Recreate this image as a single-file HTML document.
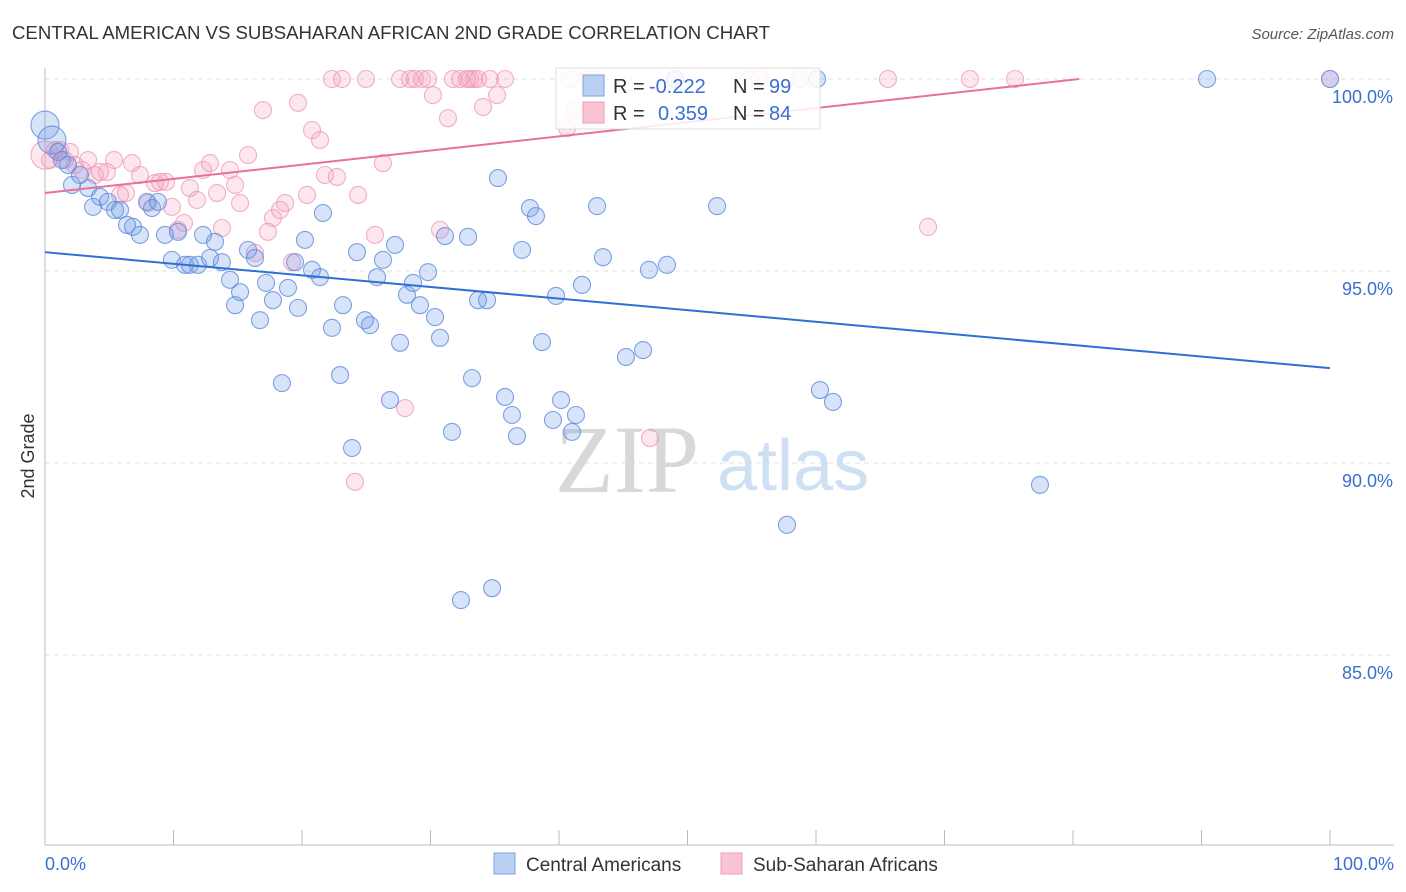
<!DOCTYPE html>
<html><head><meta charset="utf-8"><style>
body{margin:0;background:#fff;font-family:"Liberation Sans",sans-serif;}
#wrap{position:relative;width:1406px;height:892px;overflow:hidden;}
</style></head><body>
<div id="wrap">
<svg id="svg" width="1406" height="892"></svg>
</div>
<script>
const blueX=[0,0.54,1.01,1.32,1.79,2.10,2.72,3.35,3.74,4.28,4.90,5.45,5.84,6.38,6.85,7.39,7.94,8.33,8.79,9.34,9.88,10.35,10.89,11.28,11.91,12.30,12.84,13.23,13.77,14.40,14.79,15.18,15.80,16.34,16.73,17.20,17.74,18.44,18.91,19.46,19.69,20.23,20.78,21.40,21.63,22.33,22.96,23.19,23.89,24.28,24.90,25.29,25.84,26.30,26.85,27.24,27.63,28.17,28.64,29.18,29.81,30.35,30.74,31.13,31.67,32.37,32.92,33.23,33.70,34.40,34.79,35.25,35.80,36.34,36.73,37.12,37.74,38.21,38.68,39.53,39.77,40.16,41.01,41.32,41.79,42.96,43.42,45.21,46.54,47.00,48.40,52.30,57.74,60.31,61.32,77.43,90.43,100,60.08,49.03];
const blueY=[98.80,98.41,98.10,97.89,97.76,97.24,97.50,97.16,96.67,96.93,96.80,96.59,96.59,96.20,96.15,95.94,96.80,96.64,96.80,95.94,95.29,96.02,95.16,95.16,95.16,95.94,95.34,95.76,95.23,94.77,94.11,94.45,95.55,95.34,93.72,94.69,94.24,92.08,94.56,95.23,94.04,95.81,95.03,94.84,96.51,93.52,92.29,94.11,90.39,95.49,93.72,93.59,94.84,95.29,91.64,95.68,93.13,94.38,94.69,94.11,94.97,93.80,93.26,95.91,90.81,86.43,95.89,92.21,94.24,94.24,86.74,97.42,91.72,91.25,90.70,95.55,96.64,96.43,93.15,91.12,94.35,91.64,90.81,91.25,94.64,96.69,95.36,92.76,92.94,95.03,95.16,96.69,88.39,91.90,91.59,89.43,100,100,100,100];
const pinkX=[0,0.39,0.78,1.17,1.56,1.95,2.33,2.88,3.35,3.89,4.28,4.82,5.37,5.84,6.30,6.77,7.39,8.02,8.56,8.95,9.42,9.88,10.35,10.82,11.28,11.83,12.30,12.84,13.39,13.77,14.40,14.79,15.18,15.80,16.34,16.96,17.35,17.74,18.29,18.68,19.22,19.69,20.39,20.78,21.40,21.79,22.33,22.72,23.11,24.12,24.36,24.98,25.68,26.30,27.63,28.02,28.40,28.79,29.34,29.81,30.19,30.74,31.36,31.75,32.30,32.84,33.07,33.39,33.70,34.09,34.63,35.18,35.80,40.62,40.86,41.25,42.18,43.04,47.08,49.03,54.86,55.64,58.75,65.60,68.72,71.98,75.49,100];
const pinkY=[98.02,97.89,98.15,98.15,97.89,98.10,97.76,97.63,97.89,97.50,97.58,97.58,97.89,96.98,97.03,97.81,97.50,96.77,97.29,97.32,97.32,96.67,96.07,96.25,97.16,96.85,97.63,97.81,97.03,96.12,97.63,97.24,96.77,98.02,95.47,99.19,96.02,96.38,96.59,96.77,95.23,99.38,96.98,98.67,98.41,97.50,100,97.45,100,89.51,96.98,100,95.94,97.81,100,91.43,100,100,100,100,99.58,96.07,98.98,100,100,100,100,100,100,99.27,100,99.58,100,98.72,100,99.19,100,100,90.65,100,100,100,100,100,96.15,100,100,100];
const blueTrend=[95.49,92.47];
const pinkTrend=[97.03,100.72];
const yTicks=[100,95,90,85];
const yTickLabels=["100.0%","95.0%","90.0%","85.0%"];

const NS="http://www.w3.org/2000/svg";
const svg=document.getElementById('svg');
const X0=45,X1=1330,Y100=79,PXY=38.4;
const xs=v=>X0+(X1-X0)*v/100;
const ys=v=>Y100+(100-v)*PXY;
function mk(t,a,p){const e=document.createElementNS(NS,t);for(const k in a)e.setAttribute(k,a[k]);(p||svg).appendChild(e);return e;}

let t=mk('text',{x:12,y:39,'font-size':18.6,fill:'#333'});t.textContent='CENTRAL AMERICAN VS SUBSAHARAN AFRICAN 2ND GRADE CORRELATION CHART';

t=mk('text',{x:1394,y:39,'font-size':15,fill:'#555','font-style':'italic','text-anchor':'end'});t.textContent='Source: ZipAtlas.com';


yTicks.forEach((v,i)=>{
 const l=mk('line',{x1:X0,x2:1394,y1:ys(v),y2:ys(v),stroke:'#e2e2e2','stroke-dasharray':'5,4'});
 
 const tx=mk('text',{x:1393,y:ys(v)+24,'font-size':18,fill:'#3a6fd0','text-anchor':'end'});tx.textContent=yTickLabels[i];
 
});
let ax=mk('line',{x1:X0,x2:X0,y1:68,y2:845,stroke:'#bbb'});
ax=mk('line',{x1:X0,x2:1394,y1:845,y2:845,stroke:'#bbb'});
for(let i=0;i<=10;i++){const tk=mk('line',{x1:xs(i*10),x2:xs(i*10),y1:830,y2:845,stroke:'#bbb'});}
t=mk('text',{x:45,y:870,'font-size':18,fill:'#3a6fd0'});t.textContent='0.0%';
t=mk('text',{x:1394,y:870,'font-size':18,fill:'#3a6fd0','text-anchor':'end'});t.textContent='100.0%';
t=mk('text',{x:34,y:456,'font-size':18,fill:'#333','text-anchor':'middle',transform:'rotate(-90 34 456)'});t.textContent='2nd Grade';

t=mk('text',{x:555,y:492,'font-size':96,fill:'#d8d8d8','font-family':'Liberation Serif, serif'});t.textContent='ZIP';
t=mk('text',{x:717,y:490,'font-size':72,fill:'#cfe0f5'});t.textContent='atlas';

function pts(X,Y,fill,stroke,name){
 X.forEach((x,i)=>{
  const big=(i===0||(i===1&&name==='blue-point'));
  const c=mk('circle',{cx:xs(x),cy:ys(Y[i]),r:big?14:8.5,fill:fill,stroke:stroke,'stroke-width':1.1});
  
 });
}
pts(pinkX,pinkY,'rgba(244,160,190,0.25)','rgba(238,150,180,0.75)','pink-point');
pts(blueX,blueY,'rgba(110,155,230,0.28)','rgba(95,140,220,0.8)','blue-point');

let l=mk('line',{x1:xs(0),y1:ys(blueTrend[0]),x2:xs(100),y2:ys(blueTrend[1]),stroke:'#2f6fd6','stroke-width':2});

const pEnd=(100-pinkTrend[0])/(pinkTrend[1]-pinkTrend[0])*100;
l=mk('line',{x1:xs(0),y1:ys(pinkTrend[0]),x2:xs(Math.min(100,pEnd)),y2:ys(Math.min(100,pinkTrend[1])),stroke:'#e8709a','stroke-width':2});


const lg=mk('g',{});
mk('rect',{x:556,y:68,width:264,height:61,fill:'rgba(255,255,255,0.85)',stroke:'#ddd'},lg);
mk('rect',{x:583,y:75,width:21,height:21,fill:'#b9d0f3',stroke:'#7aa3e3'},lg);
mk('rect',{x:583,y:102,width:21,height:21,fill:'#f8c3d3',stroke:'#ee9db8'},lg);
function lt(x,y,s,c){const e=mk('text',{x:x,y:y,'font-size':20,fill:c},lg);e.textContent=s;return e;}
lt(613,93,'R =','#333');lt(649,93,'-0.222','#3a6fd0');lt(733,93,'N =','#333');lt(769,93,'99','#3a6fd0');
lt(613,120,'R =','#333');lt(658,120,'0.359','#3a6fd0');lt(733,120,'N =','#333');lt(769,120,'84','#3a6fd0');

const bl=mk('g',{});
let r=mk('rect',{x:494,y:853,width:21,height:21,fill:'#b9d0f3',stroke:'#7aa3e3'},bl);
t=mk('text',{x:526,y:871,'font-size':19,fill:'#333'},bl);t.textContent='Central Americans';
r=mk('rect',{x:721,y:853,width:21,height:21,fill:'#f8c3d3',stroke:'#ee9db8'},bl);
t=mk('text',{x:753,y:871,'font-size':19,fill:'#333'},bl);t.textContent='Sub-Saharan Africans';
</script>
</body></html>
